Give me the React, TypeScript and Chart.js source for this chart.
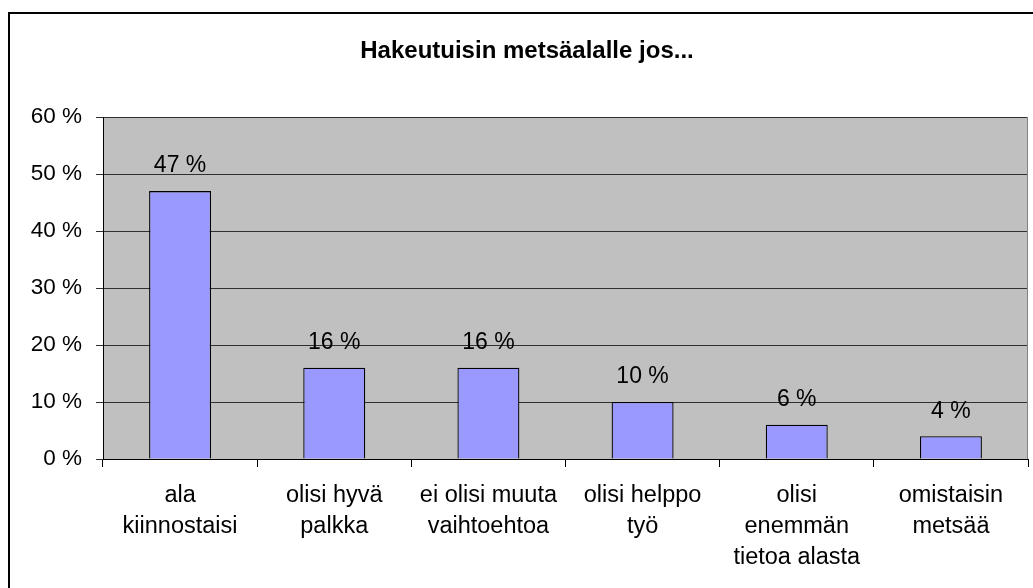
import React, { useEffect, useRef } from "react";
import { Chart, registerables } from "chart.js";

Chart.register(...registerables);

const TITLE = "Hakeutuisin metsäalalle jos...";
const CATEGORIES: string[][] = [
  ["ala", "kiinnostaisi"],
  ["olisi hyvä", "palkka"],
  ["ei olisi muuta", "vaihtoehtoa"],
  ["olisi helppo", "työ"],
  ["olisi", "enemmän", "tietoa alasta"],
  ["omistaisin", "metsää"],
];
const VALUES: number[] = [47, 16, 16, 10, 6, 4];
const Y_MIN = 0;
const Y_MAX = 60;
const Y_STEP = 10;

const FONT = "'Liberation Sans', Arial, Helvetica, sans-serif";

export default function App() {
  const ref = useRef<HTMLCanvasElement | null>(null);

  useEffect(() => {
    if (!ref.current) return;
    const decor = {
      id: "decor",
      beforeDraw(chart: any) {
        const { ctx, chartArea: a } = chart;
        ctx.save();
        ctx.fillStyle = "#ffffff";
        ctx.fillRect(0, 0, chart.width, chart.height);
        ctx.fillStyle = "#C0C0C0";
        ctx.fillRect(a.left, a.top, a.right - a.left, a.bottom - a.top);
        ctx.restore();
      },
      afterDraw(chart: any) {
        const { ctx, chartArea: a } = chart;
        ctx.save();
        ctx.strokeStyle = "#808080";
        ctx.lineWidth = 1;
        ctx.beginPath();
        ctx.moveTo(Math.round(a.right) - 0.5, a.top);
        ctx.lineTo(Math.round(a.right) - 0.5, a.bottom);
        ctx.stroke();
        ctx.strokeStyle = "#000000";
        ctx.lineWidth = 2;
        ctx.strokeRect(9, 13, 1200, 1000);
        ctx.fillStyle = "#000000";
        ctx.font = `bold 24px ${FONT}`;
        ctx.textAlign = "center";
        ctx.textBaseline = "middle";
        ctx.fillText(TITLE, 527, 51);
        ctx.restore();
      },
      afterDatasetsDraw(chart: any) {
        const { ctx } = chart;
        const meta = chart.getDatasetMeta(0);
        ctx.save();
        ctx.fillStyle = "#000000";
        ctx.font = `23px ${FONT}`;
        ctx.textAlign = "center";
        ctx.textBaseline = "middle";
        meta.data.forEach((bar: any, i: number) => {
          ctx.fillText(`${VALUES[i]} %`, bar.x, bar.y - 25);
        });
        ctx.restore();
      },
    };

    const chart = new Chart(ref.current, {
      type: "bar",
      data: {
        labels: CATEGORIES as any,
        datasets: [
          {
            data: VALUES,
            backgroundColor: "#9999FF",
            borderColor: "#000000",
            borderWidth: 1.3,
            categoryPercentage: 1,
            barPercentage: 0.402,
          },
        ],
      },
      options: {
        responsive: false,
        animation: false,
        events: [],
        layout: { padding: { left: 0, right: 5, top: 117, bottom: 0 } },
        plugins: {
          legend: { display: false },
          title: { display: false },
          tooltip: { enabled: false },
        },
        scales: {
          x: {
            grid: {
              display: true,
              drawOnChartArea: false,
              drawTicks: true,
              tickLength: 8,
              color: "#000000",
              offset: true,
            },
            border: { display: true, color: "#000000", width: 1 },
            ticks: {
              color: "#000000",
              font: { family: FONT, size: 23.5, lineHeight: 31 / 23.5 },
              padding: 13.5,
              maxRotation: 0,
              autoSkip: false,
            },
            afterFit(scale: any) {
              scale.height = 129;
            },
          },
          y: {
            min: Y_MIN,
            max: Y_MAX,
            grid: {
              color: "#303030",
              lineWidth: 1,
              tickLength: 7,
              drawTicks: true,
            },
            border: { display: true, color: "#000000", width: 1 },
            ticks: {
              stepSize: Y_STEP,
              color: "#000000",
              font: { family: FONT, size: 22.5 },
              padding: 14,
              callback: (v: any) => `${v} %`,
            },
            afterFit(scale: any) {
              scale.width = 103;
            },
          },
        },
      },
      plugins: [decor],
    } as any);
    return () => chart.destroy();
  }, []);

  return (
    <div style={{ position: "fixed", left: 0, top: 0, width: 1033, height: 588 }}>
      <canvas ref={ref} width={1033} height={588} style={{ width: 1033, height: 588, display: "block" }} />
    </div>
  );
}
